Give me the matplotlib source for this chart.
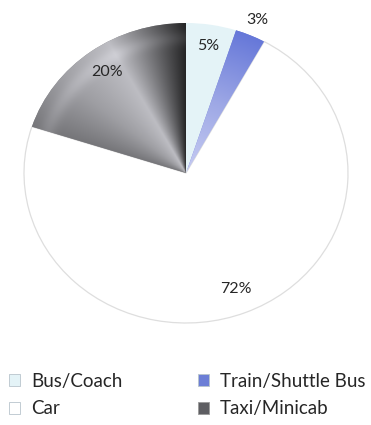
import matplotlib
matplotlib.use("Agg")
import matplotlib.pyplot as plt
import numpy as np
from matplotlib.patches import Patch

# Mode of transport shares (%), in clockwise order from 12 o'clock
modes = ["Bus/Coach", "Train/Shuttle Bus", "Car", "Taxi/Minicab"]
shares = [5, 3, 72, 20]
colors = ["#e4f3f7", "#6c7ed6", "#ffffff", "#8a8a8e"]
label_dist = [0.86, 1.11, 0.83, 0.83]

plt.rcParams["font.family"] = ["Lato", "DejaVu Sans"]
TXT = "#262626"

fig = plt.figure(figsize=(3.71, 4.25), dpi=100)
ax = fig.add_axes([24 / 371, 102 / 425, 324 / 371, 300 / 425])

wedges, _ = ax.pie(shares, colors=colors, startangle=90, counterclock=False,
                   wedgeprops=dict(linewidth=0))
ax.set_aspect("auto")
ax.set_xlim(-1, 1)
ax.set_ylim(-1, 1)
ax.axis("off")

# soft grey rim round the white slice
car = wedges[2]
car.set_edgecolor("#dedede")
car.set_linewidth(0.9)

# angle/radius grids for the shaded slices
gx, gy = np.meshgrid(np.linspace(-1, 1, 500), np.linspace(-1, 1, 500))
ang = np.degrees(np.arctan2(gy, gx)) % 360
rad = np.hypot(gx, gy)

# taxi slice: dark along the vertical edge, light band, mid grey at the far edge
taxi = wedges[3]
lo = taxi.theta1 % 360
span = taxi.theta2 - taxi.theta1
t = np.clip((ang - lo) / span, 0, 1)  # 0 at vertical edge, 1 at left edge
val = np.interp(t, [0, 0.12, 0.4, 0.7, 1], [0.14, 0.32, 0.74, 0.62, 0.46])
val = val + 0.07 * np.exp(-((rad - 0.9) / 0.05) ** 2)
img = np.dstack([val, val, val * 1.03])
im = ax.imshow(np.clip(img, 0, 1), extent=(-1, 1, -1, 1), origin="lower",
               aspect="auto", zorder=2, interpolation="bilinear")
im.set_clip_path(taxi)

# train slice: deeper blue at the rim, lavender towards the centre
train = wedges[1]
s = np.clip(rad, 0, 1)
r_ = np.interp(s, [0, 0.5, 1], [0.78, 0.62, 0.40])
g_ = np.interp(s, [0, 0.5, 1], [0.80, 0.66, 0.47])
b_ = np.interp(s, [0, 0.5, 1], [0.95, 0.90, 0.85])
im2 = ax.imshow(np.dstack([r_, g_, b_]), extent=(-1, 1, -1, 1), origin="lower",
                aspect="auto", zorder=2, interpolation="bilinear")
im2.set_clip_path(train)

for w, share, d in zip(wedges, shares, label_dist):
    mid = np.radians((w.theta1 + w.theta2) / 2)
    ax.text(d * np.cos(mid), d * np.sin(mid), f"{share}%", ha="center", va="center",
            fontsize=11.5, color=TXT, zorder=5)

handles = [Patch(facecolor=c, edgecolor="#b8c4cc", linewidth=0.6) for c in colors]
handles[3] = Patch(facecolor="#5e5e62", edgecolor="#9a9a9a", linewidth=0.6)
order = [0, 2, 1, 3]
fig.legend([handles[i] for i in order], [modes[i] for i in order], ncol=2,
           loc="upper left", bbox_to_anchor=(-0.022, 0.1624), frameon=False,
           fontsize=13.5, labelcolor=TXT, handlelength=0.6, handleheight=0.6,
           handletextpad=0.6, columnspacing=4.0, labelspacing=0.55)

fig.savefig("out.png", dpi=100, facecolor="white")
